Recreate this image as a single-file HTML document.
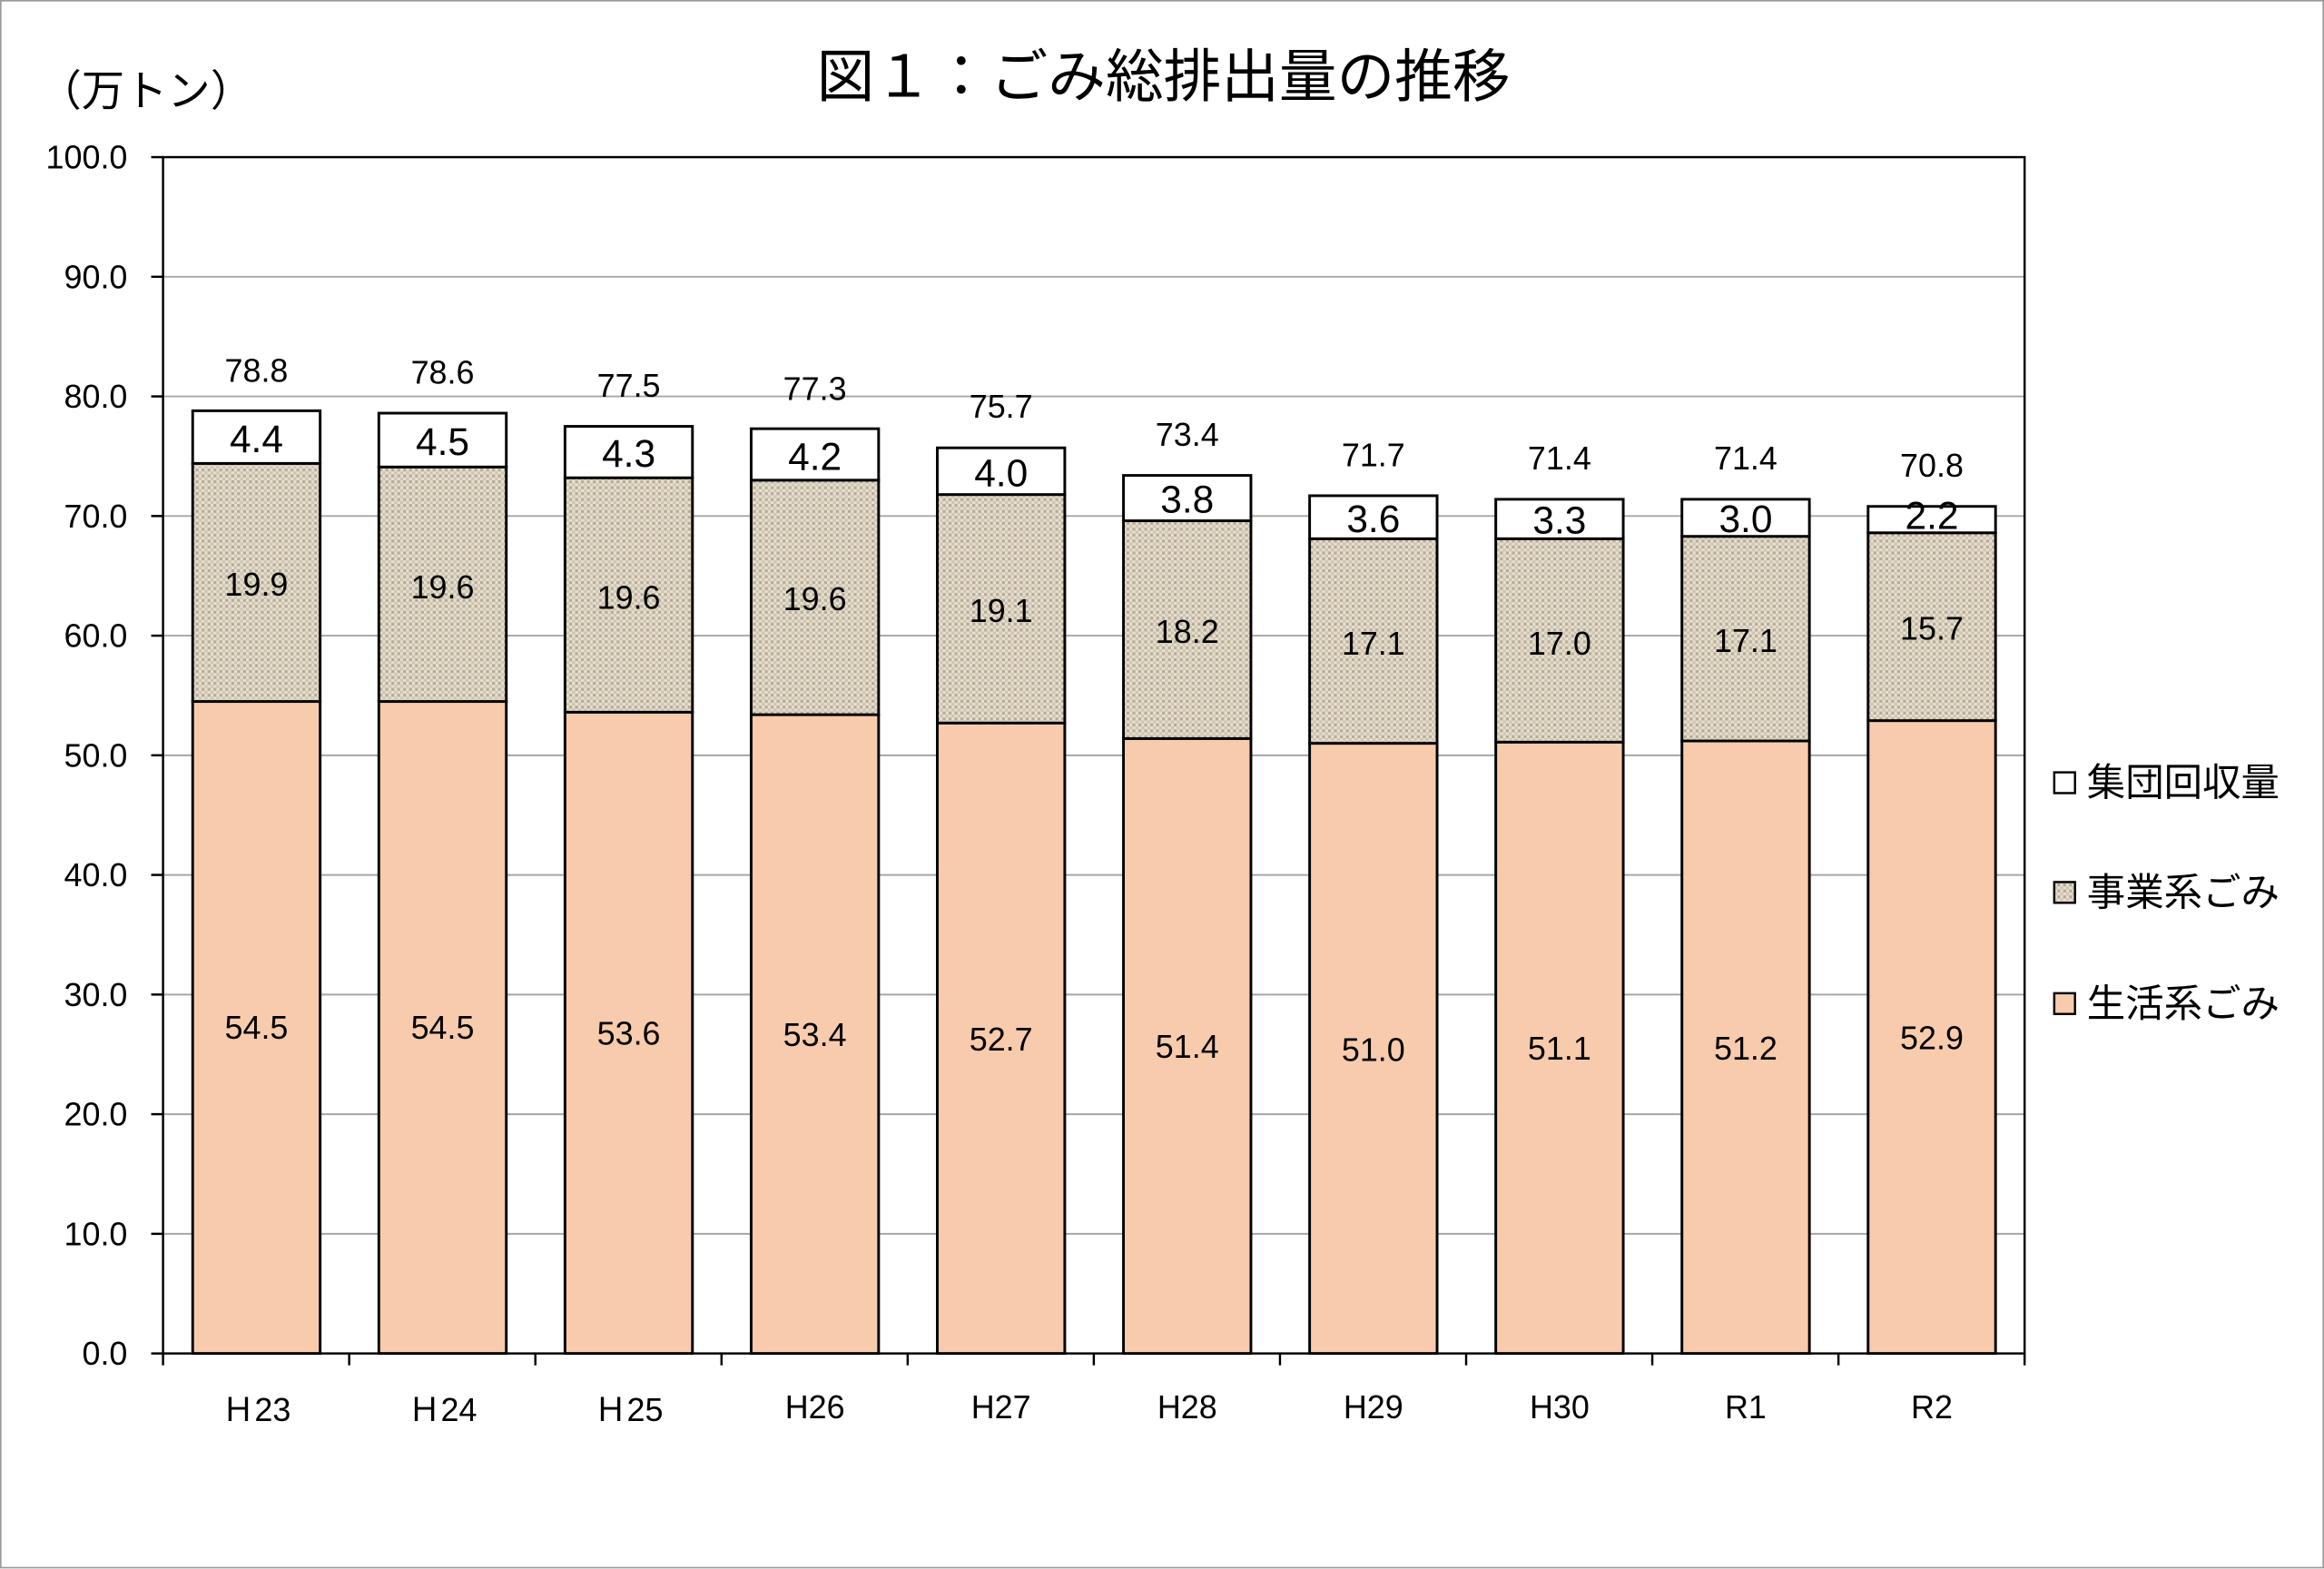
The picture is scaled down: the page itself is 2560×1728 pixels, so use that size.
<!DOCTYPE html>
<html><head><meta charset="utf-8"><style>
html,body{margin:0;padding:0;background:#fff;}
svg{display:block;}
text{font-family:"Liberation Sans","Noto Sans CJK JP",sans-serif;fill:#000;}
</style></head><body>
<svg width="2560" height="1728" viewBox="0 0 1568 1058.4" preserveAspectRatio="none" xmlns="http://www.w3.org/2000/svg">
<defs>
<pattern id="hatch" width="4" height="4" patternUnits="userSpaceOnUse">
<rect width="4" height="4" fill="#e6dfd0"/>
<rect width="2" height="2" fill="#b8ac95"/>
<rect x="2" y="2" width="2" height="2" fill="#cfc5b2"/>
</pattern>
</defs>
<rect x="0.5" y="0.5" width="1567" height="1057" fill="#fff" stroke="#999" stroke-width="1"/>
<text x="785" y="52" font-size="39" text-anchor="middle" dominant-baseline="central">図１：ごみ総排出量の推移</text>
<text x="26" y="62" font-size="29" dominant-baseline="central">（万トン）</text>
<g stroke="#a6a6a6" stroke-width="1.2">
<line x1="110" x2="1366" y1="832.3" y2="832.3"/><line x1="110" x2="1366" y1="751.6" y2="751.6"/>
<line x1="110" x2="1366" y1="670.9" y2="670.9"/><line x1="110" x2="1366" y1="590.2" y2="590.2"/>
<line x1="110" x2="1366" y1="509.5" y2="509.5"/><line x1="110" x2="1366" y1="428.8" y2="428.8"/>
<line x1="110" x2="1366" y1="348.1" y2="348.1"/><line x1="110" x2="1366" y1="267.4" y2="267.4"/>
<line x1="110" x2="1366" y1="186.7" y2="186.7"/>
</g>
<rect x="110" y="106" width="1256" height="807" fill="none" stroke="#000" stroke-width="1.5"/>
<g stroke="#000" stroke-width="1.5">
<line x1="102" x2="110" y1="913" y2="913"/><line x1="102" x2="110" y1="832.3" y2="832.3"/><line x1="102" x2="110" y1="751.6" y2="751.6"/><line x1="102" x2="110" y1="670.9" y2="670.9"/><line x1="102" x2="110" y1="590.2" y2="590.2"/><line x1="102" x2="110" y1="509.5" y2="509.5"/><line x1="102" x2="110" y1="428.8" y2="428.8"/><line x1="102" x2="110" y1="348.1" y2="348.1"/><line x1="102" x2="110" y1="267.4" y2="267.4"/><line x1="102" x2="110" y1="186.7" y2="186.7"/><line x1="102" x2="110" y1="106" y2="106"/>
<line x1="110" x2="110" y1="913" y2="921"/><line x1="235.6" x2="235.6" y1="913" y2="921"/><line x1="361.2" x2="361.2" y1="913" y2="921"/><line x1="486.8" x2="486.8" y1="913" y2="921"/><line x1="612.4" x2="612.4" y1="913" y2="921"/><line x1="738" x2="738" y1="913" y2="921"/><line x1="863.6" x2="863.6" y1="913" y2="921"/><line x1="989.2" x2="989.2" y1="913" y2="921"/><line x1="1114.8" x2="1114.8" y1="913" y2="921"/><line x1="1240.4" x2="1240.4" y1="913" y2="921"/><line x1="1366" x2="1366" y1="913" y2="921"/>
</g>
<g font-size="22" text-anchor="end" dominant-baseline="central">
<text x="86" y="913">0.0</text><text x="86" y="832.3">10.0</text><text x="86" y="751.6">20.0</text><text x="86" y="670.9">30.0</text><text x="86" y="590.2">40.0</text><text x="86" y="509.5">50.0</text><text x="86" y="428.8">60.0</text><text x="86" y="348.1">70.0</text><text x="86" y="267.4">80.0</text><text x="86" y="186.7">90.0</text><text x="86" y="106">100.0</text>
</g>
<g stroke="#000" stroke-width="1.8">
<rect x="130" y="473.2" width="86" height="439.8" fill="#f8cbad"/><rect x="130" y="312.6" width="86" height="160.6" fill="url(#hatch)"/><rect x="130" y="277.1" width="86" height="35.5" fill="#fff"/>
<rect x="255.6" y="473.2" width="86" height="439.8" fill="#f8cbad"/><rect x="255.6" y="315" width="86" height="158.2" fill="url(#hatch)"/><rect x="255.6" y="278.7" width="86" height="36.3" fill="#fff"/>
<rect x="381.2" y="480.4" width="86" height="432.6" fill="#f8cbad"/><rect x="381.2" y="322.3" width="86" height="158.1" fill="url(#hatch)"/><rect x="381.2" y="287.6" width="86" height="34.7" fill="#fff"/>
<rect x="506.8" y="482.1" width="86" height="430.9" fill="#f8cbad"/><rect x="506.8" y="323.9" width="86" height="158.2" fill="url(#hatch)"/><rect x="506.8" y="289.2" width="86" height="34.7" fill="#fff"/>
<rect x="632.4" y="487.7" width="86" height="425.3" fill="#f8cbad"/><rect x="632.4" y="333.6" width="86" height="154.1" fill="url(#hatch)"/><rect x="632.4" y="302.1" width="86" height="31.5" fill="#fff"/>
<rect x="758" y="498.2" width="86" height="414.8" fill="#f8cbad"/><rect x="758" y="351.3" width="86" height="146.9" fill="url(#hatch)"/><rect x="758" y="320.7" width="86" height="30.6" fill="#fff"/>
<rect x="883.6" y="501.4" width="86" height="411.6" fill="#f8cbad"/><rect x="883.6" y="363.4" width="86" height="138" fill="url(#hatch)"/><rect x="883.6" y="334.4" width="86" height="29" fill="#fff"/>
<rect x="1009.2" y="500.6" width="86" height="412.4" fill="#f8cbad"/><rect x="1009.2" y="363.4" width="86" height="137.2" fill="url(#hatch)"/><rect x="1009.2" y="336.8" width="86" height="26.6" fill="#fff"/>
<rect x="1134.8" y="499.8" width="86" height="413.2" fill="#f8cbad"/><rect x="1134.8" y="361.8" width="86" height="138" fill="url(#hatch)"/><rect x="1134.8" y="336.8" width="86" height="25" fill="#fff"/>
<rect x="1260.4" y="486.1" width="86" height="426.9" fill="#f8cbad"/><rect x="1260.4" y="359.4" width="86" height="126.7" fill="url(#hatch)"/><rect x="1260.4" y="341.6" width="86" height="17.8" fill="#fff"/>
</g>
<g font-size="22" text-anchor="middle" dominant-baseline="central">
<text x="173" y="693">54.5</text><text x="298.6" y="693">54.5</text><text x="424.2" y="697">53.6</text><text x="549.8" y="698">53.4</text><text x="675.4" y="701">52.7</text><text x="801" y="706">51.4</text><text x="926.6" y="708">51.0</text><text x="1052.2" y="707">51.1</text><text x="1177.8" y="707">51.2</text><text x="1303.4" y="700">52.9</text>
<text x="173" y="394">19.9</text><text x="298.6" y="396">19.6</text><text x="424.2" y="403">19.6</text><text x="549.8" y="404">19.6</text><text x="675.4" y="412">19.1</text><text x="801" y="426">18.2</text><text x="926.6" y="434">17.1</text><text x="1052.2" y="434">17.0</text><text x="1177.8" y="432">17.1</text><text x="1303.4" y="424">15.7</text>
<text x="173" y="250">78.8</text><text x="298.6" y="251">78.6</text><text x="424.2" y="260">77.5</text><text x="549.8" y="262">77.3</text><text x="675.4" y="274">75.7</text><text x="801" y="293">73.4</text><text x="926.6" y="307">71.7</text><text x="1052.2" y="309">71.4</text><text x="1177.8" y="309">71.4</text><text x="1303.4" y="314">70.8</text>
<text x="173" y="951">Ｈ23</text><text x="298.6" y="951">Ｈ24</text><text x="424.2" y="951">Ｈ25</text><text x="549.8" y="949">H26</text><text x="675.4" y="949">H27</text><text x="801" y="949">H28</text><text x="926.6" y="949">H29</text><text x="1052.2" y="949">H30</text><text x="1177.8" y="949">R1</text><text x="1303.4" y="949">R2</text>
</g>
<g font-size="26" text-anchor="middle" dominant-baseline="central">
<text x="173" y="296">4.4</text><text x="298.6" y="298">4.5</text><text x="424.2" y="306">4.3</text><text x="549.8" y="308">4.2</text><text x="675.4" y="319">4.0</text><text x="801" y="337">3.8</text><text x="926.6" y="350">3.6</text><text x="1052.2" y="351">3.3</text><text x="1177.8" y="350">3.0</text><text x="1303.4" y="348">2.2</text>
</g>
<g stroke="#000" stroke-width="1.5">
<rect x="1386" y="521" width="14" height="14" fill="#fff"/>
<rect x="1386" y="595" width="14" height="14" fill="url(#hatch)"/>
<rect x="1386" y="670" width="14" height="14" fill="#f8cbad"/>
</g>
<g font-size="26" dominant-baseline="central">
<text x="1408" y="528">集団回収量</text>
<text x="1408" y="602">事業系ごみ</text>
<text x="1408" y="677">生活系ごみ</text>
</g>
</svg>
</body></html>
